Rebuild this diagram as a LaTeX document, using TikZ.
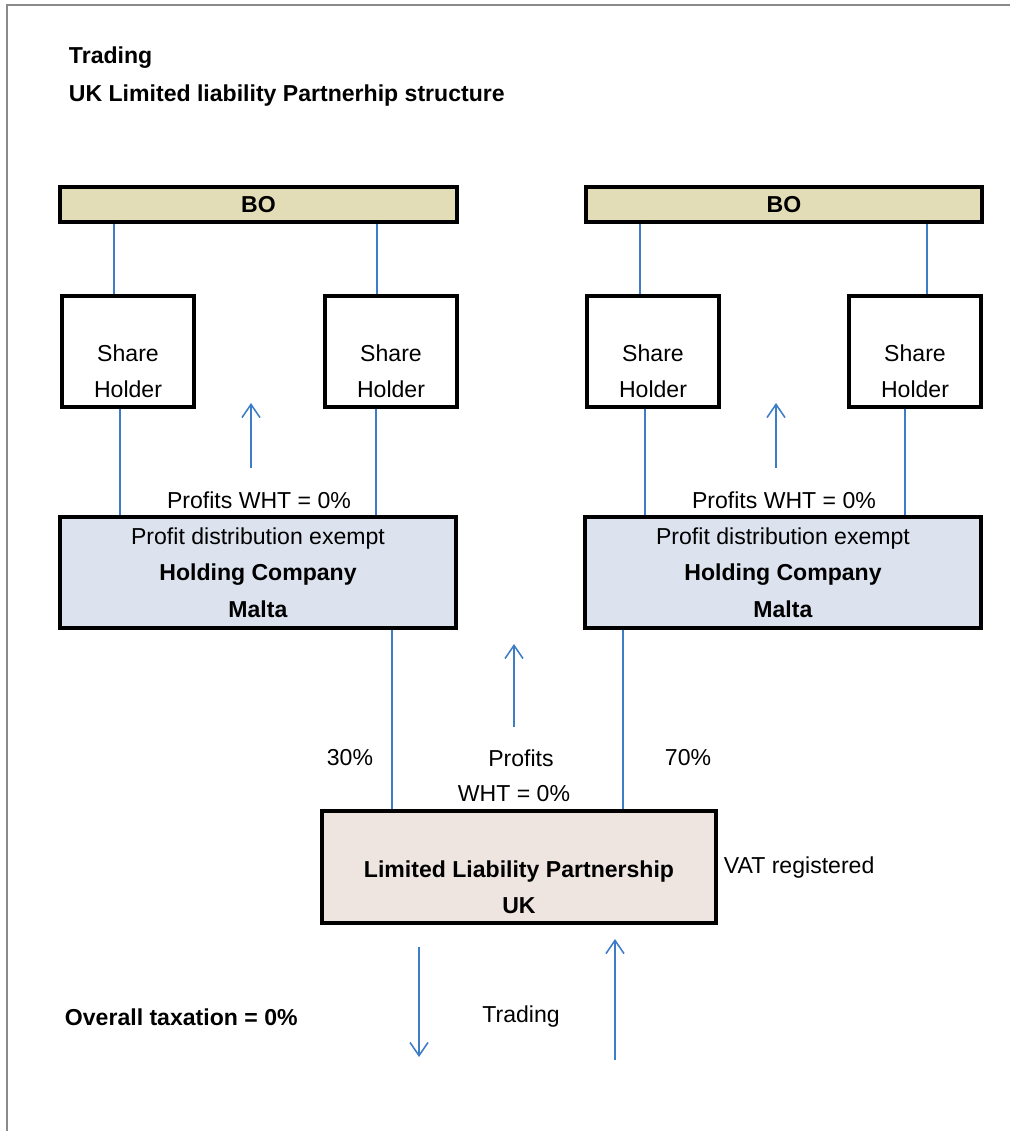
\documentclass[tikz,border=0pt]{standalone}
\usepackage{fontspec}
\setmainfont{Liberation Sans}
\usetikzlibrary{arrows.meta}
\definecolor{bofill}{HTML}{E2DDB6}
\definecolor{hcfill}{HTML}{DCE3EE}
\definecolor{llpfill}{HTML}{EEE5E1}
\definecolor{linkblue}{HTML}{3C7DC6}
\definecolor{framegray}{HTML}{8A8A8A}
\begin{document}
\begin{tikzpicture}[x=0.025cm,y=-0.025cm,
		font=\fontsize{16.4}{25.8}\selectfont,
		box/.style={draw=black, line width=2.2pt, inner sep=0pt},
		link/.style={draw=linkblue, line width=1.1pt},
		flow/.style={draw=linkblue, line width=1.1pt, -{Straight Barb[length=0.33cm,width=0.45cm]}}]
			\useasboundingbox (0,0) rectangle (1010,1131);
			\draw[framegray, line width=1pt] (7,1131) -- (7,5) -- (1010,5);
			\node[anchor=west, font=\fontsize{16.4}{20}\selectfont\bfseries] (title) at (64,58) {Trading};
			\node[anchor=west, font=\fontsize{16.4}{20}\selectfont\bfseries] (subtitle) at (64,96) {UK Limited liability Partnerhip structure};
			\begin{scope}[every node/.style={box, fill=bofill, minimum height=35*0.025cm, font=\fontsize{16.4}{20}\selectfont\bfseries}]
				\node[minimum width=397*0.025cm] (boL) at (258.5,204.5) {BO};
				\node[minimum width=396*0.025cm] (boR) at (784,204.5) {BO};
			\end{scope}
			\begin{scope}[every node/.style={box, fill=white, minimum width=132*0.025cm, minimum height=111*0.025cm}]
				\node (shA) at (128,351.5) {};
				\node (shB) at (391,351.5) {};
				\node (shC) at (653,351.5) {};
				\node (shD) at (915,351.5) {};
			\end{scope}
			\begin{scope}[every node/.style={align=center}]
				\node (shAt) at (128,371) {Share\\Holder};
				\node (shBt) at (391,371) {Share\\Holder};
				\node (shCt) at (653,371) {Share\\Holder};
				\node (shDt) at (915,371) {Share\\Holder};
			\end{scope}
			\begin{scope}[every node/.style={box, fill=hcfill, minimum width=396*0.025cm, minimum height=111*0.025cm, align=center}]
				\node (hcL) at (258,572.5) {Profit distribution exempt\\\textbf{Holding Company}\\\textbf{Malta}};
				\node (hcR) at (783,572.5) {Profit distribution exempt\\\textbf{Holding Company}\\\textbf{Malta}};
			\end{scope}
			\node[box, fill=llpfill, minimum width=394*0.025cm, minimum height=112*0.025cm] (llp) at (519,867) {};
			\node[align=center, font=\fontsize{16.4}{25.8}\selectfont\bfseries] (llpt) at (519,887) {Limited Liability Partnership\\UK};
			\node[anchor=west] (vat) at (719,868) {VAT registered};
			\node (whtL) at (259,500) {Profits WHT = 0\%};
			\node (whtR) at (784,500) {Profits WHT = 0\%};
			\node (pc30) at (350,758) {30\%};
			\node (pc70) at (688,758) {70\%};
			\node (prof) at (521,758) {Profits};
			\node (wht) at (514,794) {WHT = 0\%};
			\node[anchor=west, font=\fontsize{16.4}{20}\selectfont\bfseries] (total) at (60,1017) {Overall taxation = 0\%};
			\node (trade) at (521,1017) {Trading};
			% ownership lines
			\begin{scope}[every edge/.style={link}]
				\path (boL.south -| 114,0) edge (shA.north -| 114,0);
				\path (boL.south -| 377,0) edge (shB.north -| 377,0);
				\path (boR.south -| 640,0) edge (shC.north -| 640,0);
				\path (boR.south -| 927,0) edge (shD.north -| 927,0);
				\path (shA.south -| 120,0) edge (hcL.north -| 120,0);
				\path (shB.south -| 376,0) edge (hcL.north -| 376,0);
				\path (shC.south -| 645,0) edge (hcR.north -| 645,0);
				\path (shD.south -| 905,0) edge (hcR.north -| 905,0);
				\path (hcL.south -| 392,0) edge (llp.north -| 392,0);
				\path (hcR.south -| 623,0) edge (llp.north -| 623,0);
			\end{scope}
			% money flows
			\coordinate (upLa) at (251,468);
			\coordinate (upLb) at (251,403);
			\coordinate (upRa) at (776,468);
			\coordinate (upRb) at (776,403);
			\coordinate (upMa) at (514,727);
			\coordinate (upMb) at (514,644);
			\coordinate (downa) at (419,947);
			\coordinate (downb) at (419,1057);
			\coordinate (upTa) at (615,1060);
			\coordinate (upTb) at (615,939);
			\begin{scope}[every edge/.style={flow}]
				\path (upLa) edge (upLb);
				\path (upRa) edge (upRb);
				\path (upMa) edge (upMb);
				\path (downa) edge (downb);
				\path (upTa) edge (upTb);
			\end{scope}
		\end{tikzpicture}
\end{document}
